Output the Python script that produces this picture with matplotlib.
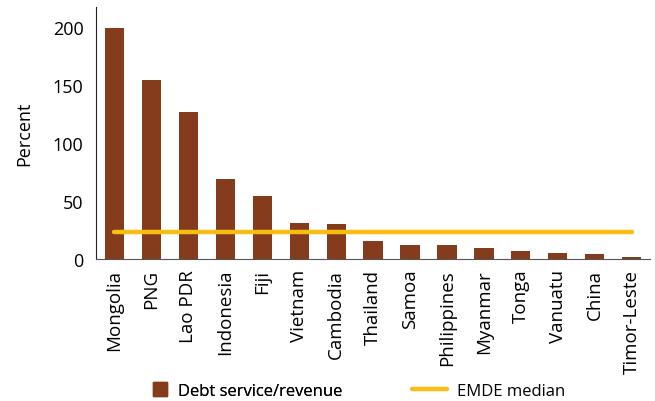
import matplotlib.pyplot as plt
from matplotlib.lines import Line2D
import numpy as np

countries = ['Mongolia', 'PNG', 'Lao PDR', 'Indonesia', 'Fiji', 'Vietnam', 'Cambodia',
             'Thailand', 'Samoa', 'Philippines', 'Myanmar', 'Tonga', 'Vanuatu', 'China',
             'Timor-Leste']
debt_service = [199, 154, 127, 69, 54, 31, 30, 15.5, 12.5, 12, 9.5, 7, 5.5, 4.5, 1.5]
emde_median = 23.5

bar_color = '#843C1C'
line_color = '#F9BE14'

plt.rcParams['font.family'] = ['Open Sans', 'DejaVu Sans']

fig = plt.figure(figsize=(6.55, 4.02), dpi=100)
ax = fig.add_axes([0.1466, 0.353, 0.846, 0.627])

x = np.arange(len(countries))
ax.bar(x, debt_service, width=0.52, color=bar_color)
ax.plot([x[0], x[-1]], [emde_median, emde_median], color=line_color, lw=3.2,
        solid_capstyle='round')

ax.set_xlim(-0.5, len(countries) - 0.5)
ax.set_ylim(0, 217)
ax.set_yticks([0, 50, 100, 150, 200])
ax.set_xticks(x)
ax.set_xticklabels(countries, rotation=90, fontsize=13.5)
ax.tick_params(axis='y', length=0, labelsize=13, pad=9)
ax.tick_params(axis='x', length=0, pad=7)
ax.set_ylabel('Percent', fontsize=13, labelpad=14)

ax.spines['top'].set_visible(False)
ax.spines['right'].set_visible(False)
ax.spines['left'].set_color('#222222')
ax.spines['bottom'].set_color('#555555')

# two separate legends so the square and the line keep their own sizes
sq = Line2D([], [], marker='s', ls='', ms=10, color=bar_color)
ln = Line2D([], [], color=line_color, lw=3.2, solid_capstyle='round')
leg1 = fig.legend(handles=[sq], labels=['Debt service/revenue'], loc='center left',
                  bbox_to_anchor=(153 / 655, 0.025), frameon=False, fontsize=12,
                  borderpad=0, borderaxespad=0, handlelength=0.85, handletextpad=0.65)
fig.legend(handles=[ln], labels=['EMDE median'], loc='center left',
           bbox_to_anchor=(412 / 655, 0.025), frameon=False, fontsize=12,
           borderpad=0, borderaxespad=0, handlelength=2.1, handletextpad=0.6)
fig.add_artist(leg1)

plt.savefig('out.png', dpi=100)
